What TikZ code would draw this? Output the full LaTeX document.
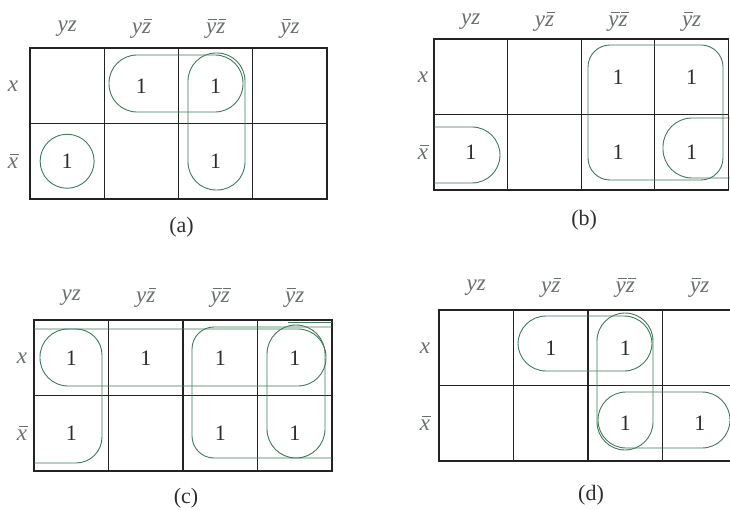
\documentclass[tikz,border=0pt]{standalone}
\usepackage{fontspec}
\setmainfont{Liberation Serif}
\definecolor{gridc}{RGB}{35,35,35}
\definecolor{labc}{RGB}{105,110,110}
\definecolor{loopc}{RGB}{62,122,92}
\definecolor{onec}{RGB}{45,45,45}
\newcommand\ovl[1]{\setbox0=\hbox{\itshape #1}\hbox{\rlap{\hskip0.1em\raisebox{0.6em}{\rule{\dimexpr\wd0-0.06em\relax}{0.05em}}}\box0}}
\tikzset{
  gridline/.style={draw=gridc, line width=1.3pt},
  grp/.style={draw=loopc, line width=0.9pt},
  hdr/.style={text=labc, inner sep=0pt, font=\fontsize{23}{27}\selectfont},
  onetxt/.style={text=onec, inner sep=0pt, font=\fontsize{22}{26}\selectfont},
  captxt/.style={text=onec, inner sep=0pt, font=\fontsize{22}{26}\selectfont},
}
% #1 id, #2 left, #3 top, #4 cell width, #5 header gap, #6 label gap, #7 caption y
\newcommand\kmap[7]{%
  \begin{scope}[shift={(#2,#3)}]
    \draw[gridline] (0,0) rectangle ({4*#4},151);
    \foreach \i in {1,2,3} \draw[gridline] ({#4*\i},0) -- ({#4*\i},151);
    \draw[gridline] (0,75.5) -- ({4*#4},75.5);
    \foreach \c in {1,...,4} \foreach \r in {1,2}
      \coordinate (#1-\c-\r) at ({#4*\c-#4/2},{75.5*\r-37.75});
    \node[hdr] (#1-h1) at ({0.5*#4},-#5) {\textit{yz}};
    \node[hdr] (#1-h2) at ({1.5*#4},-#5) {\textit{y}\ovl{z}};
    \node[hdr] (#1-h3) at ({2.5*#4},-#5) {\ovl{y}\ovl{z}};
    \node[hdr] (#1-h4) at ({3.5*#4},-#5) {\ovl{y}\textit{z}};
    \node[hdr] (#1-rx) at (-#6,37.75) {\textit{x}};
    \node[hdr] (#1-rnx) at (-#6,113.25) {\ovl{x}};
    \node[captxt] (#1-cap) at ({2*#4+3},#7) {(#1)};
  \end{scope}}
\begin{document}
\begin{tikzpicture}[x=1pt,y=-1pt]
\useasboundingbox (0,0) rectangle (730,510);
\clip (0,0) rectangle (730,510);
\kmap{a}{30}{48}{74.25}{19}{17}{179}
\kmap{b}{434}{39}{73.6}{17}{11}{181}
\kmap{c}{34}{320}{74.5}{22}{12}{178}
\kmap{d}{439}{310}{74.5}{22}{14}{185}
% ones
\node[onetxt] (a1) at (a-2-1) {1};
\node[onetxt] (a2) at (a-3-1) {1};
\node[onetxt] (a3) at (a-1-2) {1};
\node[onetxt] (a4) at (a-3-2) {1};
\node[onetxt] (b1) at (b-3-1) {1};
\node[onetxt] (b2) at (b-4-1) {1};
\node[onetxt] (b3) at (b-1-2) {1};
\node[onetxt] (b4) at (b-3-2) {1};
\node[onetxt] (b5) at (b-4-2) {1};
\node[onetxt] (c1) at (c-1-1) {1};
\node[onetxt] (c2) at (c-2-1) {1};
\node[onetxt] (c3) at (c-3-1) {1};
\node[onetxt] (c4) at (c-4-1) {1};
\node[onetxt] (c5) at (c-1-2) {1};
\node[onetxt] (c6) at (c-3-2) {1};
\node[onetxt] (c7) at (c-4-2) {1};
\node[onetxt] (d1) at (d-2-1) {1};
\node[onetxt] (d2) at (d-3-1) {1};
\node[onetxt] (d3) at (d-3-2) {1};
\node[onetxt] (d4) at (d-4-2) {1};
% loops (a)
\draw[grp, rounded corners=28pt] (109,55) rectangle (243,112);
\draw[grp, rounded corners=28pt] (188,53) rectangle (245,190);
\draw[grp] (a-1-2) circle[radius=27pt];
% loops (b)
\draw[grp, rounded corners=22pt] (588,45) rectangle (723,180);
\draw[grp, rounded corners=28pt] (434,127) -- (500,127) -- (500,183) -- (434,183);
\draw[grp, rounded corners=29pt] (735,118) -- (663,118) -- (663,178) -- (735,178);
% loops (c)
\draw[grp, rounded corners=28pt] (40,329) rectangle (326,386);
\draw[grp, rounded corners=26pt] (34,329) -- (102,329) -- (102,463) -- (34,463);
\draw[grp, rounded corners=22pt] (332,327) -- (192,327) -- (192,458) -- (332,458);
\draw[grp, rounded corners=29pt] (267,325) rectangle (325,458);
\draw[grp] (288,322) -- (332,322);
% loops (d)
\draw[grp, rounded corners=28pt] (518,316) rectangle (652,371);
\draw[grp, rounded corners=28pt] (597,313) rectangle (653,450);
\draw[grp, rounded corners=28pt] (598,392) rectangle (730,448);
\end{tikzpicture}
\end{document}
